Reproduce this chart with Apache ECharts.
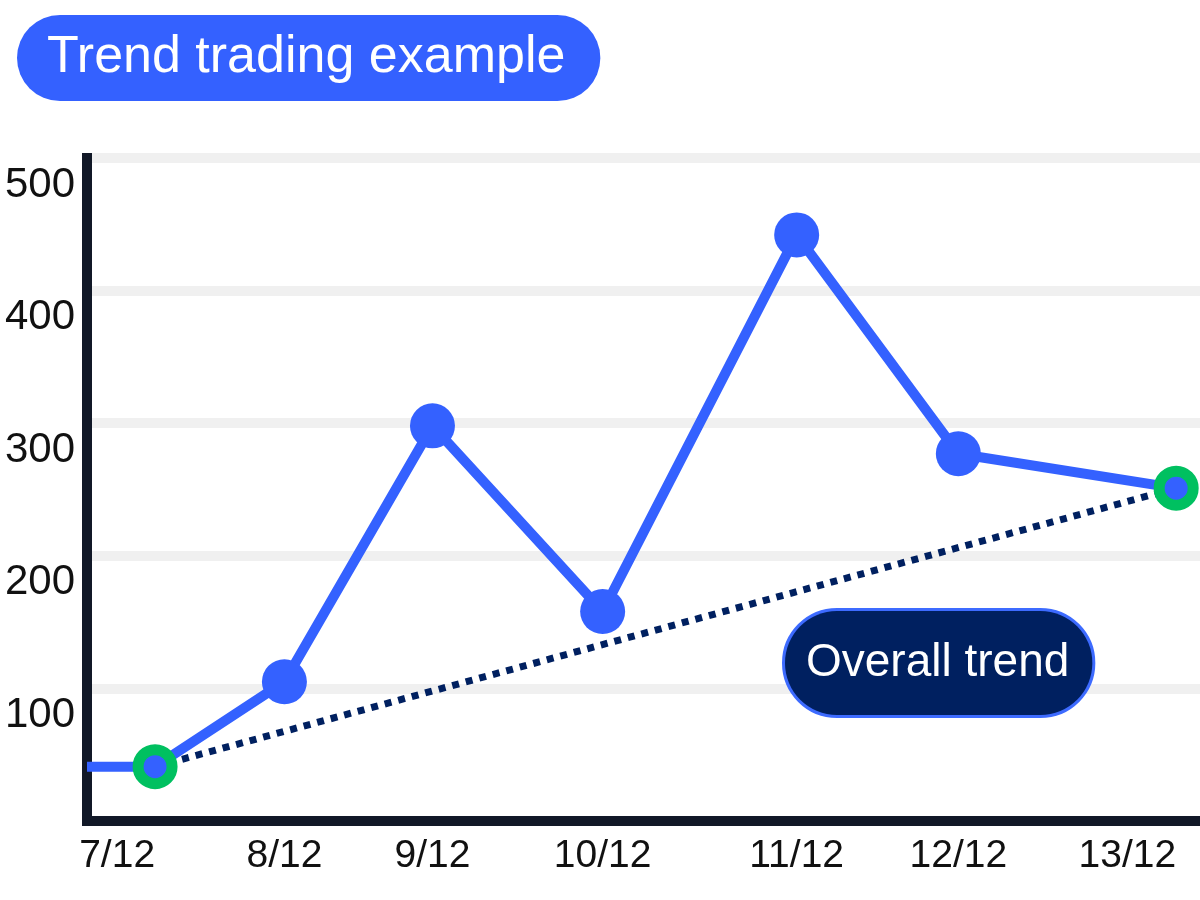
<!DOCTYPE html>
<html>
<head>
<meta charset="utf-8">
<script src="https://cdn.jsdelivr.net/npm/echarts@6/dist/echarts.min.js"></script>
<style>
  html, body { margin: 0; padding: 0; background: #ffffff; }
  #chart { width: 1200px; height: 900px; }
</style>
</head>
<body>
<div id="chart"></div>
<script>
// ---- data ----
const titleText = 'Trend trading example';
const trendLabel = 'Overall trend';
const categories = ['7/12', '8/12', '9/12', '10/12', '11/12', '12/12', '13/12'];
// horizontal position of each point, in days (the drawing spaces them unevenly)
const dayPositions = [7.0, 7.76, 8.63, 9.63, 10.77, 11.72, 13.0];
const prices = [41, 105, 298, 158, 442, 277, 251];
const yTicks = [0, 100, 200, 300, 400, 500];
const xMin = 6.6;
const xMax = 13.14;

const BLUE = '#3461ff';
const GREEN = '#00c060';
const NAVY = '#002060';
const AXIS = '#111827';

const lastIdx = prices.length - 1;
const mainData = [{ value: [xMin, prices[0]], symbol: 'none' }];
dayPositions.forEach((d, i) => {
  const item = { value: [d, prices[i]] };
  if (i === 0 || i === lastIdx) {
    item.symbolSize = 34;
    item.itemStyle = { color: BLUE, borderColor: GREEN, borderWidth: 11 };
  }
  mainData.push(item);
});
const trendData = [[dayPositions[0], prices[0]], [dayPositions[lastIdx], prices[lastIdx]]];

function labelFor(v) {
  let best = 0;
  for (let i = 1; i < dayPositions.length; i++) {
    if (Math.abs(dayPositions[i] - v) < Math.abs(dayPositions[best] - v)) best = i;
  }
  return categories[best];
}

const chart = echarts.init(document.getElementById('chart'), null, { renderer: 'canvas' });
chart.setOption({
  backgroundColor: '#ffffff',
  animation: false,
  title: {
    text: titleText,
    left: 17,
    top: 15,
    backgroundColor: BLUE,
    borderRadius: 43,
    padding: [13, 35, 13, 30],
    textStyle: {
      color: '#ffffff',
      fontFamily: 'Liberation Sans',
      fontWeight: 'normal',
      fontSize: 52,
      lineHeight: 60
    }
  },
  grid: { left: 87, right: 0, top: 158, bottom: 79, outerBoundsMode: 'none' },
  xAxis: {
    type: 'value',
    min: xMin,
    max: xMax,
    axisLine: { show: true, onZero: true, lineStyle: { color: AXIS, width: 10, cap: 'square' } },
    axisTick: { show: false },
    splitLine: { show: false },
    axisLabel: {
      customValues: dayPositions,
      formatter: labelFor,
      alignMinLabel: 'right',
      alignMaxLabel: 'right',
      margin: 16,
      color: '#111111',
      fontFamily: 'Liberation Sans',
      fontSize: 39,
      hideOverlap: false
    }
  },
  yAxis: {
    type: 'value',
    min: yTicks[0],
    max: yTicks[yTicks.length - 1],
    interval: 100,
    axisLine: { show: true, lineStyle: { color: AXIS, width: 10, cap: 'square' } },
    axisTick: { show: false },
    splitLine: { show: true, lineStyle: { color: '#f0f0f0', width: 10 } },
    axisLabel: {
      showMinLabel: false,
      margin: 12,
      verticalAlign: 'top',
      lineHeight: 42,
      padding: [6, 0, 0, 0],
      color: '#111111',
      fontFamily: 'Liberation Sans',
      fontSize: 42
    }
  },
  graphic: [{
    type: 'text',
    left: 782,
    top: 608,
    z: 100,
    style: {
      text: trendLabel,
      fill: '#ffffff',
      font: '46px "Liberation Sans"',
      lineHeight: 56,
      backgroundColor: NAVY,
      borderColor: '#3d6bff',
      borderWidth: 3,
      borderRadius: 52,
      padding: [24, 23, 24, 21]
    }
  }],
  series: [
    {
      name: 'Overall trend',
      type: 'line',
      data: trendData,
      z: 2,
      symbol: 'none',
      lineStyle: { color: NAVY, width: 7, type: [7, 7], cap: 'butt' },
      silent: true
    },
    {
      name: 'Price',
      type: 'line',
      data: mainData,
      z: 3,
      symbol: 'circle',
      symbolSize: 45,
      itemStyle: { color: BLUE },
      lineStyle: { color: BLUE, width: 10 },
      silent: true
    }
  ]
});
</script>
</body>
</html>
